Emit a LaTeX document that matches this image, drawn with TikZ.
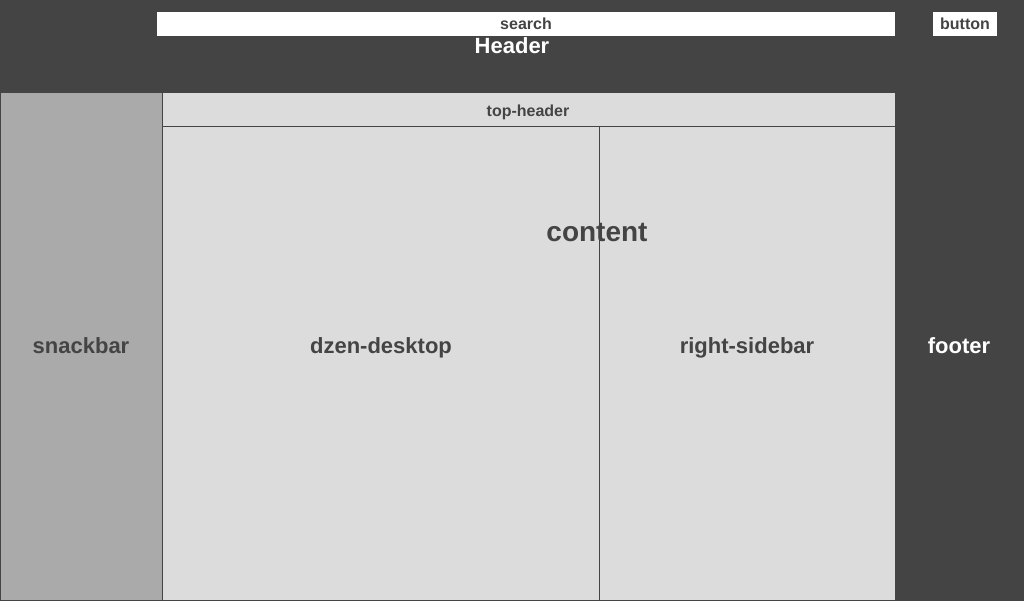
\documentclass[tikz,border=0pt]{standalone}
\usepackage{fontspec}
\setmainfont{Liberation Sans}
\usetikzlibrary{positioning}
\definecolor{pagedark}{HTML}{444444}
\definecolor{snackgray}{HTML}{AAAAAA}
\definecolor{contentgray}{HTML}{DCDCDC}

\begin{document}
\begin{tikzpicture}[x=1pt, y=-1pt,
	area/.style={draw=pagedark, line width=1pt, inner sep=0pt, outer sep=0pt, anchor=north west},
	bigtext/.style={font=\bfseries\fontsize{22}{26}\selectfont, text=pagedark},
	smalltext/.style={font=\bfseries\fontsize{16}{19}\selectfont, text=pagedark}]
	\fill[pagedark] (0,0) rectangle (1024,601);
	\useasboundingbox (0,0) rectangle (1024,601);

	% header
	\node[fill=white, inner sep=0pt, anchor=north west, minimum width=738pt, minimum height=24pt] (search) at (157,12) {};
	\node[fill=white, inner sep=0pt, anchor=north west, minimum width=64pt, minimum height=24pt] (button) at (933,12) {};
	\node[smalltext] at (526,24) {search};
	\node[smalltext] at (965,24) {button};
	\node[bigtext, text=white] (header) at (512,46) {Header};

	% body
	\node[area, fill=snackgray, minimum width=162pt, minimum height=507pt] (snackbar) at (0,93) {};
	\node[area, fill=contentgray, minimum width=733pt, minimum height=34pt] (topheader) at (162,93) {};
	\node[area, fill=contentgray, minimum width=437pt, minimum height=473pt] (dzen) at (162,127) {};
	\node[area, fill=contentgray, minimum width=296pt, minimum height=473pt] (sidebar) at (599,127) {};

	\node[smalltext] at (528,112) {top-header};
	\node[font=\bfseries\fontsize{28}{33}\selectfont, text=pagedark] (content) at (597,233) {content};
	\node[bigtext] at (81,346) {snackbar};
	\node[bigtext] at (381,348) {dzen-desktop};
	\node[bigtext] at (747,348) {right-sidebar};
	\node[bigtext, text=white] (footer) at (959,346) {footer};
\end{tikzpicture}
\end{document}
